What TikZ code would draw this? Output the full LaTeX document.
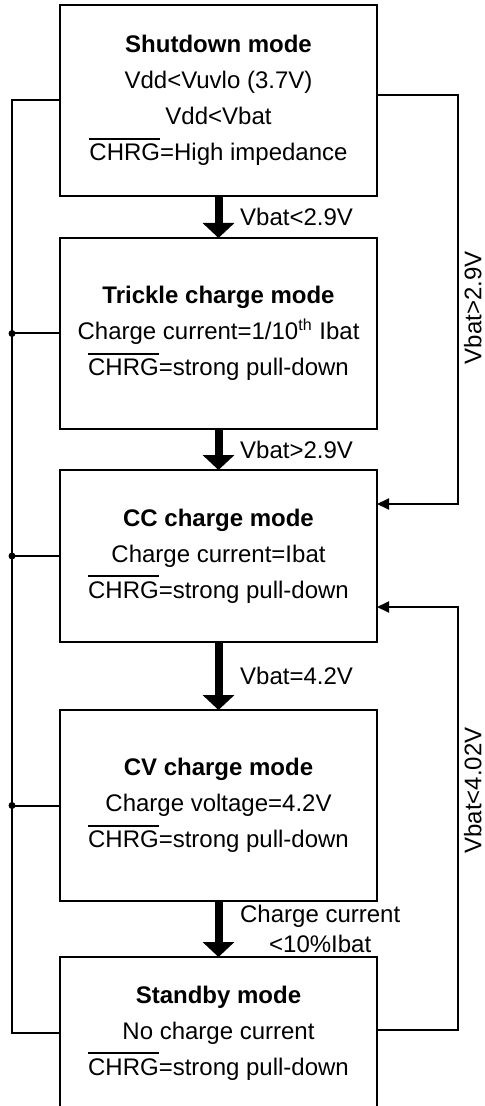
\documentclass[tikz,border=0pt]{standalone}
\usepackage{fontspec}
\setmainfont{Liberation Sans}
\usepackage{tikz}
\usetikzlibrary{arrows.meta, positioning}

\newcommand{\notbar}[1]{\leavevmode\vbox{\hrule height 1pt\kern 2pt\hbox{#1}}}

\begin{document}
\begin{tikzpicture}[
    mode/.style={rectangle, draw=black, line width=1pt, fill=white, outer sep=0pt, minimum width=158.5pt, minimum height=#1, align=center, font=\fontsize{12}{18}\selectfont},
    mode/.default=95.5pt,
    flow/.style={-{Triangle[length=7.5pt, width=15.5pt]}, line width=4pt},
    wire/.style={line width=1pt},
    back/.style={wire, -{Triangle[length=6pt, width=5.5pt]}},
    cond/.style={font=\fontsize{12}{15}\selectfont, align=center, right=5.5pt},
    sidecond/.style={font=\fontsize{12}{15}\selectfont, rotate=90, anchor=north, inner sep=0pt, outer sep=0pt, yshift=-3pt},
    junction/.style={circle, fill=black, inner sep=0pt, minimum size=3.5pt}
]
    \clip (0,0) rectangle (242.5pt,-553pt);
    \coordinate (lrail) at (6pt,0);
    \coordinate (rrail) at (229pt,0);

    % Modes
    \node[mode] (shutdown) at (109.25pt,-50.25pt) {\textbf{Shutdown mode}\\Vdd<Vuvlo (3.7V)\\Vdd<Vbat\\\notbar{CHRG}=High impedance};
    \node[mode, below=21pt of shutdown] (trickle) {\textbf{Trickle charge mode}\\Charge current=1/10\textsuperscript{th} Ibat\\\notbar{CHRG}=strong pull-down};
    \node[mode=86pt, below=20.5pt of trickle] (cc) {\textbf{CC charge mode}\\Charge current=Ibat\\\notbar{CHRG}=strong pull-down};
    \node[mode, below=34pt of cc] (cv) {\textbf{CV charge mode}\\Charge voltage=4.2V\\\notbar{CHRG}=strong pull-down};
    \node[mode=76pt, below=28pt of cv] (standby) {\textbf{Standby mode}\\No charge current\\\notbar{CHRG}=strong pull-down};

    % Main flow
    \draw[flow] (shutdown) -- node[cond] {Vbat<2.9V} (trickle);
    \draw[flow] (trickle) -- node[cond] {Vbat>2.9V} (cc);
    \draw[flow] (cc) -- node[cond] {Vbat=4.2V} (cv);
    \draw[flow] (cv) -- node[cond] {Charge current\\<10\%Ibat} (standby);

    % Left rail
    \draw[wire] (shutdown.west) -| (lrail |- standby.west) -- (standby.west);
    \foreach \m in {trickle, cc, cv} {
        \draw[wire] (lrail |- \m.west) -- (\m.west);
        \node[junction] at (lrail |- \m.west) {};
    }

    % Right rail
    \coordinate (ccin1) at ([yshift=26pt]cc.east);
    \coordinate (ccin2) at ([yshift=-25.5pt]cc.east);
    \draw[back] ([yshift=2.75pt]shutdown.east) -| node[sidecond, pos=0.76] {Vbat>2.9V} (rrail |- ccin1) -- (ccin1);
    \draw[back] ([yshift=1.5pt]standby.east) -| node[sidecond, pos=0.783] {Vbat<4.02V} (rrail |- ccin2) -- (ccin2);

\end{tikzpicture}
\end{document}
